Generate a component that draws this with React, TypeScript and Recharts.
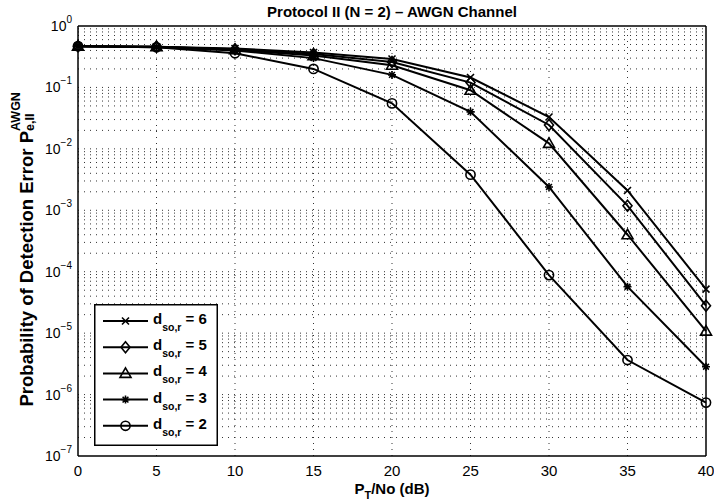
import React from 'react';
import { LineChart, Line, XAxis, YAxis, ReferenceLine } from 'recharts';

// ---------- data ----------
const snrDb = [0, 5, 10, 15, 20, 25, 30, 35, 40];
const peD6 = [0.47, 0.46, 0.43, 0.37, 0.29, 0.145, 0.033, 0.0021, 5.2e-5];
const peD5 = [0.47, 0.46, 0.42, 0.35, 0.26, 0.12, 0.0245, 0.00119, 2.8e-5];
const peD4 = [0.47, 0.46, 0.41, 0.33, 0.23, 0.09, 0.0123, 0.0004, 1.08e-5];
const peD3 = [0.47, 0.45, 0.4, 0.3, 0.16, 0.04, 0.0024, 5.7e-5, 2.84e-6];
const peD2 = [0.47, 0.45, 0.36, 0.2, 0.055, 0.0038, 8.8e-5, 3.65e-6, 7.4e-7];

const seriesKeys = ['d6', 'd5', 'd4', 'd3', 'd2'];
const seriesLabels = ['6', '5', '4', '3', '2'];
const seriesMarkers = ['x', 'diamond', 'triangle', 'asterisk', 'circle'];

const xTicks = [0, 5, 10, 15, 20, 25, 30, 35, 40];
const xGrid = [5, 10, 15, 20, 25, 30, 35];
const yDecades = [1e-7, 1e-6, 1e-5, 1e-4, 1e-3, 1e-2, 1e-1, 1];
const yMinor: number[] = [];
for (let e = -7; e < 0; e++) {
  for (let k = 2; k <= 9; k++) yMinor.push(k * Math.pow(10, e));
}
const yGrid = [...yDecades.slice(1, -1), ...yMinor];

const data = snrDb.map((x, i) => ({
  x,
  d6: peD6[i],
  d5: peD5[i],
  d4: peD4[i],
  d3: peD3[i],
  d2: peD2[i],
}));

const FONT = "'Liberation Sans', Arial, Helvetica, sans-serif";
const BLACK = '#000';

// ---------- markers ----------
function Marker({ shape, cx, cy }: { shape: string; cx: number; cy: number }) {
  const s = { stroke: BLACK, strokeWidth: 1.6, fill: 'none' };
  if (cx == null || cy == null || isNaN(cx) || isNaN(cy)) return null;
  switch (shape) {
    case 'x': {
      const r = 3.5;
      return <path d={`M${cx - r},${cy - r}L${cx + r},${cy + r}M${cx - r},${cy + r}L${cx + r},${cy - r}`} {...s} />;
    }
    case 'diamond':
      return <path d={`M${cx},${cy - 5.5}L${cx + 4.5},${cy}L${cx},${cy + 5.5}L${cx - 4.5},${cy}Z`} {...s} />;
    case 'triangle':
      return <path d={`M${cx},${cy - 5.5}L${cx + 5.5},${cy + 4}L${cx - 5.5},${cy + 4}Z`} {...s} />;
    case 'asterisk': {
      const r = 4;
      const d = 2.9;
      return (
        <path
          d={`M${cx - r},${cy}L${cx + r},${cy}M${cx},${cy - r}L${cx},${cy + r}M${cx - d},${cy - d}L${cx + d},${cy + d}M${cx - d},${cy + d}L${cx + d},${cy - d}`}
          {...s}
        />
      );
    }
    default:
      return <circle cx={cx} cy={cy} r={4.6} {...s} />;
  }
}

// ---------- ticks & labels ----------
const YTick = (p: any) => {
  const e = Math.round(Math.log10(p.payload.value));
  return (
    <text x={p.x} y={p.y} textAnchor="end" fontFamily={FONT} fontSize={14} fill={BLACK}>
      <tspan dy={5}>10</tspan>
      <tspan dy={-8} fontSize={10}>{e === 0 ? '0' : '\u2212' + -e}</tspan>
    </text>
  );
};

const XTick = (p: any) => (
  <text x={p.x} y={p.y + 20} textAnchor="middle" fontFamily={FONT} fontSize={15} fill={BLACK}>
    {p.payload.value}
  </text>
);

const XLabel = () => (
  <text x={392} y={494} textAnchor="middle" fontFamily={FONT} fontSize={15} fontWeight="bold" fill={BLACK}>
    P<tspan dy={5} fontSize={11}>T</tspan>
    <tspan dy={-5}>/No (dB)</tspan>
  </text>
);

const YLabel = () => (
  <g transform="translate(33,0) rotate(-90)">
    <text x={-131} y={0} textAnchor="end" fontFamily={FONT} fontSize={18.5} fontWeight="bold" fill={BLACK}>
      Probability of Detection Error P
    </text>
    <text x={-131} y={-13} textAnchor="start" fontFamily={FONT} fontSize={12.5} fontWeight="bold" fill={BLACK}>
      AWGN
    </text>
    <text x={-131} y={1} textAnchor="start" fontFamily={FONT} fontSize={12.5} fontWeight="bold" fill={BLACK}>
      e,II
    </text>
  </g>
);

const Title = () => (
  <text x={392} y={17} textAnchor="middle" fontFamily={FONT} fontSize={15} fontWeight="bold" fill={BLACK}>
    Protocol II (N = 2) – AWGN Channel
  </text>
);

// ---------- legend ----------
function LegendBox() {
  return (
    <svg style={{ position: 'absolute', left: 94, top: 304 }} width={124} height={142}>
      <rect x={0.75} y={0.75} width={122.5} height={140.5} fill="#fff" stroke={BLACK} strokeWidth={1.5} />
      {seriesKeys.map((k, i) => {
        const cy = 17 + i * 26.2;
        return (
          <g key={k}>
            <line x1={9} x2={54} y1={cy} y2={cy} stroke={BLACK} strokeWidth={2} />
            <Marker shape={seriesMarkers[i]} cx={31.5} cy={cy} />
            <text x={59} y={cy + 3} fontFamily={FONT} fontSize={15} fontWeight="bold" fill={BLACK}>
              d<tspan dy={7} fontSize={10.5}>so,r</tspan>
              <tspan dy={-7}>{' = ' + seriesLabels[i]}</tspan>
            </text>
          </g>
        );
      })}
    </svg>
  );
}

const gridProps = { stroke: '#333', strokeWidth: 1, strokeDasharray: '1 5' };
const axisLineStyle = { stroke: BLACK, strokeWidth: 1.5 };

export default function App() {
  return (
    <div style={{ position: 'absolute', left: 0, top: 0, width: 714, height: 501, background: '#fff' }}>
      <LineChart width={714} height={501} data={data} margin={{ top: 26, right: 8, bottom: 15, left: 18 }}>
        {xGrid.map((v) => (
          <ReferenceLine key={'vx' + v} x={v} {...gridProps} />
        ))}
        {yGrid.map((v) => (
          <ReferenceLine key={'hy' + v} y={v} {...gridProps} />
        ))}

        <XAxis
          dataKey="x"
          type="number"
          domain={[0, 40]}
          ticks={xTicks}
          interval={0}
          height={30}
          tickSize={0}
          tickMargin={0}
          tickLine={false}
          tick={XTick}
          axisLine={axisLineStyle}
          label={XLabel}
        />
        <XAxis
          xAxisId="top"
          orientation="top"
          mirror
          type="number"
          domain={[0, 40]}
          allowDataOverflow
          ticks={xTicks}
          interval={0}
          height={10}
          tickSize={5}
          tick={false}
          tickLine={{ stroke: BLACK }}
          axisLine={axisLineStyle}
          label={Title}
        />
        <XAxis
          xAxisId="bm"
          orientation="bottom"
          mirror
          type="number"
          domain={[0, 40]}
          allowDataOverflow
          ticks={xTicks}
          interval={0}
          height={10}
          tickSize={5}
          tick={false}
          tickLine={{ stroke: BLACK }}
          axisLine={false}
        />

        <YAxis
          type="number"
          scale="log"
          domain={[1e-7, 1]}
          ticks={yDecades}
          interval={0}
          width={60}
          tickSize={0}
          tickMargin={6}
          tickLine={false}
          tick={YTick}
          axisLine={axisLineStyle}
          label={YLabel}
        />
        <YAxis
          yAxisId="lmaj"
          mirror
          type="number"
          scale="log"
          domain={[1e-7, 1]}
          allowDataOverflow
          ticks={yDecades}
          interval={0}
          width={10}
          tickSize={5}
          tick={false}
          tickLine={{ stroke: BLACK }}
          axisLine={false}
        />
        <YAxis
          yAxisId="lmin"
          mirror
          type="number"
          scale="log"
          domain={[1e-7, 1]}
          allowDataOverflow
          ticks={yMinor}
          interval={0}
          width={10}
          tickSize={3}
          tick={false}
          tickLine={{ stroke: BLACK }}
          axisLine={false}
        />
        <YAxis
          yAxisId="rmaj"
          orientation="right"
          mirror
          type="number"
          scale="log"
          domain={[1e-7, 1]}
          allowDataOverflow
          ticks={yDecades}
          interval={0}
          width={10}
          tickSize={5}
          tick={false}
          tickLine={{ stroke: BLACK }}
          axisLine={axisLineStyle}
        />
        <YAxis
          yAxisId="rmin"
          orientation="right"
          mirror
          type="number"
          scale="log"
          domain={[1e-7, 1]}
          allowDataOverflow
          ticks={yMinor}
          interval={0}
          width={10}
          tickSize={3}
          tick={false}
          tickLine={{ stroke: BLACK }}
          axisLine={false}
        />

        {seriesKeys.map((k, i) => (
          <Line
            key={k}
            dataKey={k}
            type="linear"
            stroke={BLACK}
            strokeWidth={2}
            isAnimationActive={false}
            dot={(p: any) => <Marker key={k + '-' + p.index} shape={seriesMarkers[i]} cx={p.cx} cy={p.cy} />}
            activeDot={false}
          />
        ))}
      </LineChart>
      <LegendBox />
    </div>
  );
}
